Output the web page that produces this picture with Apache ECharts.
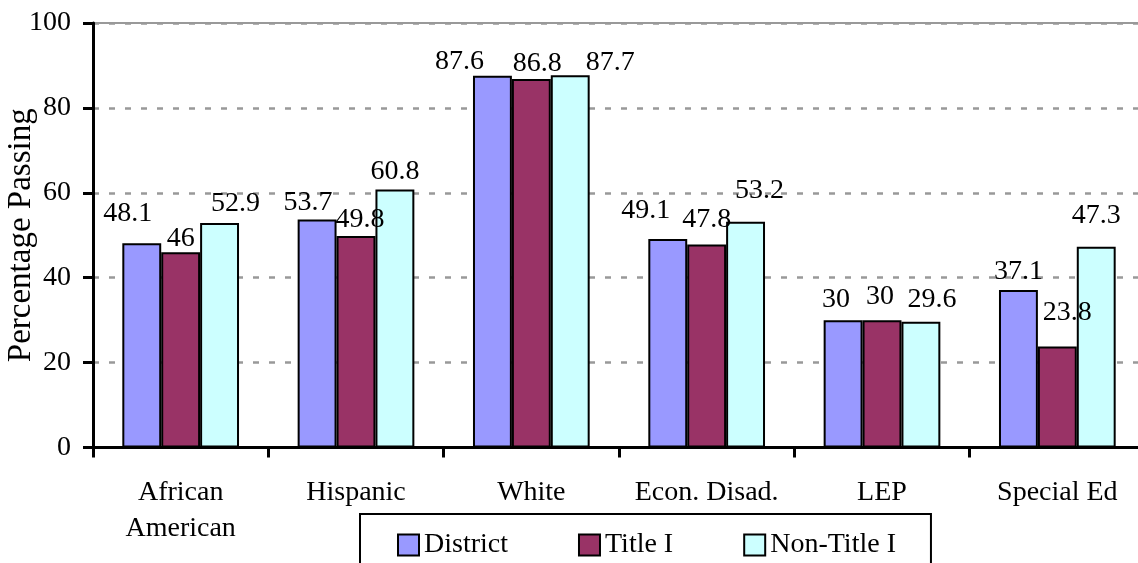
<!DOCTYPE html>
<html>
<head>
<meta charset="utf-8">
<script src="https://cdn.jsdelivr.net/npm/echarts@6/dist/echarts.min.js"></script>
<style>
  html, body { margin: 0; padding: 0; background: #fff; }
  #chart { width: 1138px; height: 563px; }
</style>
</head>
<body>
<div id="chart"></div>
<script>
// categories and values
var categories = ['African\nAmerican', 'Hispanic', 'White', 'Econ. Disad.', 'LEP', 'Special Ed']
var districtData = [48.1, 53.7, 87.6, 49.1, 30, 37.1]
var titleOneData = [46, 49.8, 86.8, 47.8, 30, 23.8]
var nonTitleData = [52.9, 60.8, 87.7, 53.2, 29.6, 47.3]
var yTicks = { min: 0, max: 100, step: 20 }

// label nudges (dx, dy), Excel placed some labels by hand
var districtShift = [[-14, -16], [-9, -3], [-33, 0], [-22, -14], [-7, -7], [0, -4]]
var titleOneShift = [[0, 0], [4, -2], [6, -1], [0, -11], [-2, -10], [10, -20]]
var nonTitleShift = [[16, -5], [0, -4], [40, 1], [14, -17], [11, -8], [0, -17]]

var FONT = '"Liberation Serif", "Times New Roman", serif'

function withLabels(values, shifts) {
  return values.map(function(v, i) {
    return { value: v, label: { offset: shifts[i] } }
  })
}

function barSeries(name, color, values, shifts) {
  return {
    name: name,
    type: 'bar',
    barWidth: 38.9,
    barGap: '0%',
    itemStyle: {
      color: color,
      borderColor: '#000',
      borderWidth: 2
    },
    label: {
      show: true,
      position: 'top',
      distance: 0,
      color: '#000',
      fontFamily: FONT,
      fontSize: 28
    },
    data: withLabels(values, shifts)
  }
}

var chart = echarts.init(document.getElementById('chart'))
chart.setOption({
  backgroundColor: '#fff',
  animation: false,
  textStyle: { fontFamily: FONT },
  grid: {
    left: 93,
    right: -7,
    top: 23,
    bottom: 115.5,
    outerBoundsMode: 'none',
    containLabel: false,
    show: true,
    borderColor: '#999',
    borderWidth: 2,
    backgroundColor: 'transparent'
  },
  legend: {
    data: ['District', 'Title I', 'Non-Title I'],
    left: 360,
    top: 514,
    orient: 'horizontal',
    padding: [17, 35, 40, 37],
    itemGap: 70,
    itemWidth: 21,
    itemHeight: 21,
    icon: 'rect',
    borderColor: '#000',
    borderWidth: 2,
    itemStyle: { borderColor: '#000', borderWidth: 2 },
    textStyle: { fontFamily: FONT, fontSize: 28, color: '#000' }
  },
  xAxis: {
    type: 'category',
    data: categories,
    axisLine: { lineStyle: { color: '#000', width: 3 } },
    axisTick: { show: true, length: 10, lineStyle: { color: '#000', width: 3 } },
    axisLabel: {
      color: '#000',
      fontFamily: FONT,
      fontSize: 28,
      lineHeight: 36,
      margin: 27,
      interval: 0
    }
  },
  yAxis: {
    type: 'value',
    min: yTicks.min,
    max: yTicks.max,
    interval: yTicks.step,
    name: 'Percentage Passing',
    nameLocation: 'middle',
    nameGap: 55,
    nameMoveOverlap: false,
    nameTextStyle: { fontFamily: FONT, fontSize: 33, color: '#000' },
    axisLine: { show: true, lineStyle: { color: '#000', width: 3 } },
    axisTick: { show: true, length: 10, lineStyle: { color: '#000', width: 3 } },
    axisLabel: { color: '#000', fontFamily: FONT, fontSize: 28, margin: 22 },
    splitLine: {
      show: true,
      lineStyle: { color: '#999', width: 2.5, type: [6, 10] }
    }
  },
  series: [
    barSeries('District', '#9999FF', districtData, districtShift),
    barSeries('Title I', '#993366', titleOneData, titleOneShift),
    barSeries('Non-Title I', '#CCFFFF', nonTitleData, nonTitleShift)
  ]
})
</script>
</body>
</html>
